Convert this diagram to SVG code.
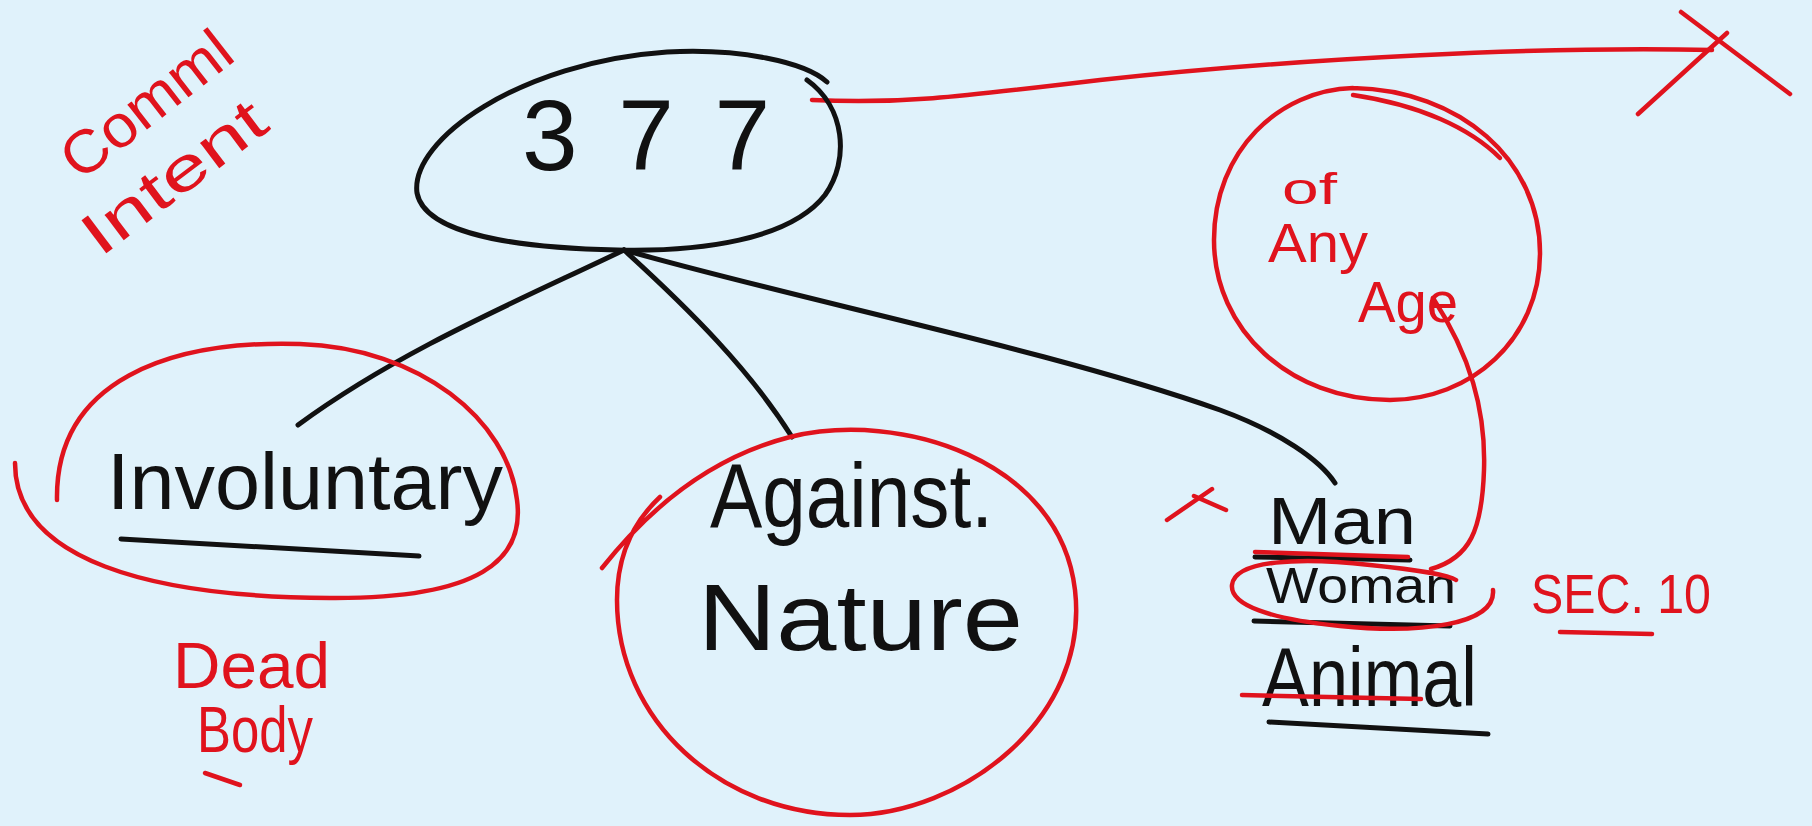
<svg xmlns="http://www.w3.org/2000/svg" width="1812" height="826" viewBox="0 0 1812 826">
<style>
.bk{fill:none;stroke:#111;stroke-width:5;stroke-linecap:round;stroke-linejoin:round}
.rd{fill:none;stroke:#e0131d;stroke-width:4.5;stroke-linecap:round;stroke-linejoin:round}
.tb{font-family:"Liberation Sans",Arial,sans-serif;fill:#111}
.tr{font-family:"Liberation Sans",Arial,sans-serif;fill:#e0131d}
</style>
<rect width="1812" height="826" fill="#e0f2fb"/>
<g id="connectors">
<path class="bk" d="M624,250 C520,300 400,350 298,425"/>
<path class="bk" d="M624,250 C690,310 750,370 792,437"/>
<path class="bk" d="M624,250 C800,300 1050,350 1220,410 C1280,432 1320,460 1335,483"/>
<path class="rd" d="M812,100 C900,104 950,98 1100,80 C1300,58 1550,46 1712,50"/>
<path class="rd" d="M1681,12 L1790,94 M1638,114 L1727,33"/>
<path class="rd" d="M1433,298 C1470,355 1486,410 1484,470 C1482,530 1470,558 1431,569"/>
</g>
<g id="note-criminal-intent">
<text class="tr" x="80" y="182" font-size="60" textLength="200" lengthAdjust="spacingAndGlyphs" transform="rotate(-38 80 182)">Comml</text>
<text class="tr" x="100" y="258" font-size="60" textLength="215" lengthAdjust="spacingAndGlyphs" transform="rotate(-37 100 258)">Intent</text>
</g>
<g id="node-377">
<path class="bk" d="M807,80 C845,107 850,160 825,195 C790,240 700,252 617,250 C520,248 425,235 417,193 C410,140 520,62 667,52 C740,48 805,62 827,82"/>
<text class="tb" x="522" y="170" font-size="100" textLength="248" lengthAdjust="spacing">377</text>
</g>
<g id="node-involuntary">
<path class="rd" d="M15,463 C15,560 150,597 330,598 C480,599 525,560 517,500 C508,420 420,348 300,344 C170,340 55,380 57,500"/>
<text class="tb" x="107" y="509" font-size="80" textLength="396" lengthAdjust="spacingAndGlyphs">Involuntary</text>
<path class="bk" d="M121,539 L419,556"/>
</g>
<g id="note-dead-body">
<text class="tr" x="173" y="688" font-size="64" textLength="157" lengthAdjust="spacingAndGlyphs">Dead</text>
<text class="tr" x="197" y="752" font-size="64" textLength="116" lengthAdjust="spacingAndGlyphs">Body</text>
<path class="rd" d="M205,773 L240,785"/>
</g>
<g id="node-against-nature">
<path class="rd" d="M602,568 C640,520 700,460 790,437 C900,410 1060,460 1075,590 C1090,720 960,815 850,815 C720,815 617,720 617,600 C617,560 630,525 660,497"/>
<text class="tb" x="710" y="527" font-size="90" textLength="283" lengthAdjust="spacingAndGlyphs">Against.</text>
<text class="tb" x="698" y="650" font-size="95" textLength="325" lengthAdjust="spacingAndGlyphs">Nature</text>
</g>
<g id="node-any-age">
<path class="rd" d="M1353,88 C1460,90 1540,160 1540,253 C1540,340 1470,400 1390,400 C1290,400 1214,330 1214,240 C1214,150 1280,90 1353,88"/>
<path class="rd" d="M1353,95 C1420,105 1470,128 1500,158"/>
<text class="tr" x="1282" y="204" font-size="44" textLength="55" lengthAdjust="spacingAndGlyphs">of</text>
<text class="tr" x="1268" y="262" font-size="56" textLength="100" lengthAdjust="spacingAndGlyphs">Any</text>
<text class="tr" x="1358" y="322" font-size="58" textLength="100" lengthAdjust="spacingAndGlyphs">Age</text>
</g>
<g id="node-man-woman-animal">
<path class="rd" d="M1167,520 L1212,489 M1194,496 L1226,510"/>
<text class="tb" x="1268" y="544" font-size="66" textLength="148" lengthAdjust="spacingAndGlyphs">Man</text>
<path class="bk" d="M1255,557 L1410,560"/>
<path class="rd" d="M1255,552 L1408,557"/>
<text class="tb" x="1266" y="603" font-size="50" textLength="190" lengthAdjust="spacingAndGlyphs">Woman</text>
<path class="bk" d="M1254,621 L1450,626"/>
<path class="rd" d="M1493,590 C1496,625 1420,634 1340,626 C1270,619 1230,605 1232,585 C1235,560 1300,557 1370,565 C1420,570 1450,576 1456,580"/>
<text class="tb" x="1262" y="706" font-size="84" textLength="215" lengthAdjust="spacingAndGlyphs">Animal</text>
<path class="rd" d="M1242,695 L1421,699"/>
<path class="bk" d="M1269,722 L1488,734"/>
</g>
<g id="note-sec10">
<text class="tr" x="1531" y="613" font-size="56" textLength="180" lengthAdjust="spacingAndGlyphs">SEC. 10</text>
<path class="rd" d="M1560,632 L1652,634"/>
</g>
</svg>
